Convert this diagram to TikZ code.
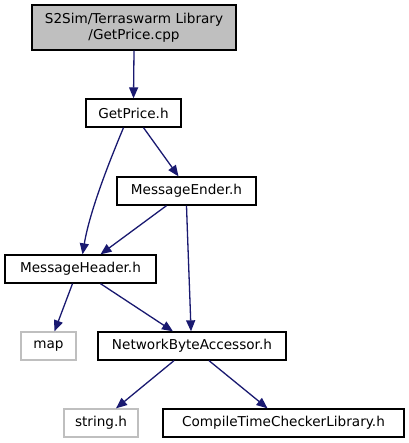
\documentclass[tikz,border=0pt]{standalone}
\usepackage{fontspec}
\setmainfont{DejaVu Sans}
\usetikzlibrary{calc, positioning}
\usetikzlibrary{arrows.meta}
\definecolor{edgeblue}{HTML}{191970}
\definecolor{boxgray}{HTML}{BFBFBF}

\begin{document}
\begin{tikzpicture}[x=1pt, y=-1pt,
  file/.style={draw=black, line width=1.3pt, inner sep=0pt, minimum height=28pt,
    font=\fontsize{13.6}{16}\selectfont},
  extfile/.style={file, draw=boxgray},
  incl/.style={draw=edgeblue, line width=1.3pt,
    -{Triangle[length=11pt, width=9pt]}}]
\useasboundingbox (0,0) rectangle (408,443);

\node[file, fill=boxgray, minimum width=204pt, minimum height=45pt, align=center]
  (src) at (134,27.5) {S2Sim/Terraswarm Library\\/GetPrice.cpp};
\node[file, minimum width=95pt] (getprice) at (133.5,113) {GetPrice.h};
\node[file, minimum width=139pt] (ender) at (186.5,191) {MessageEnder.h};
\node[file, minimum width=151pt] (header) at (80.5,269) {MessageHeader.h};
\node[extfile, minimum width=55pt] (map) at (48.5,346) {map};
\node[file, minimum width=188pt] (nba) at (192,346) {NetworkByteAccessor.h};
\node[extfile, minimum width=74pt] (strh) at (101,423) {string.h};
\node[file, minimum width=241pt] (ctc) at (283.5,423) {CompileTimeCheckerLibrary.h};

\draw[incl] (src.south) -- (getprice.north);
\draw[incl] ($(getprice.south)+(-10,0)$) .. controls (110,160) and (90,210)
  .. ($(header.north)+(2,0)$);
\draw[incl] ($(getprice.south)+(10,0)$) -- ($(ender.north)+(-8,0)$);
\draw[incl] ($(ender.south)+(-20,0)$) -- ($(header.north)+(20,0)$);
\draw[incl] ($(ender.south)+(0,0)$) .. controls (188,250) and (190,300)
  .. ($(nba.north)+(-1,0)$);
\draw[incl] ($(header.south)+(-8,0)$) -- ($(map.north)+(6,0)$);
\draw[incl] ($(header.south)+(20,0)$) -- ($(nba.north)+(-19,0)$);
\draw[incl] ($(nba.south)+(-18,0)$) -- ($(strh.north)+(15,0)$);
\draw[incl] ($(nba.south)+(17,0)$) -- ($(ctc.north)+(-16,0)$);
\end{tikzpicture}
\end{document}
